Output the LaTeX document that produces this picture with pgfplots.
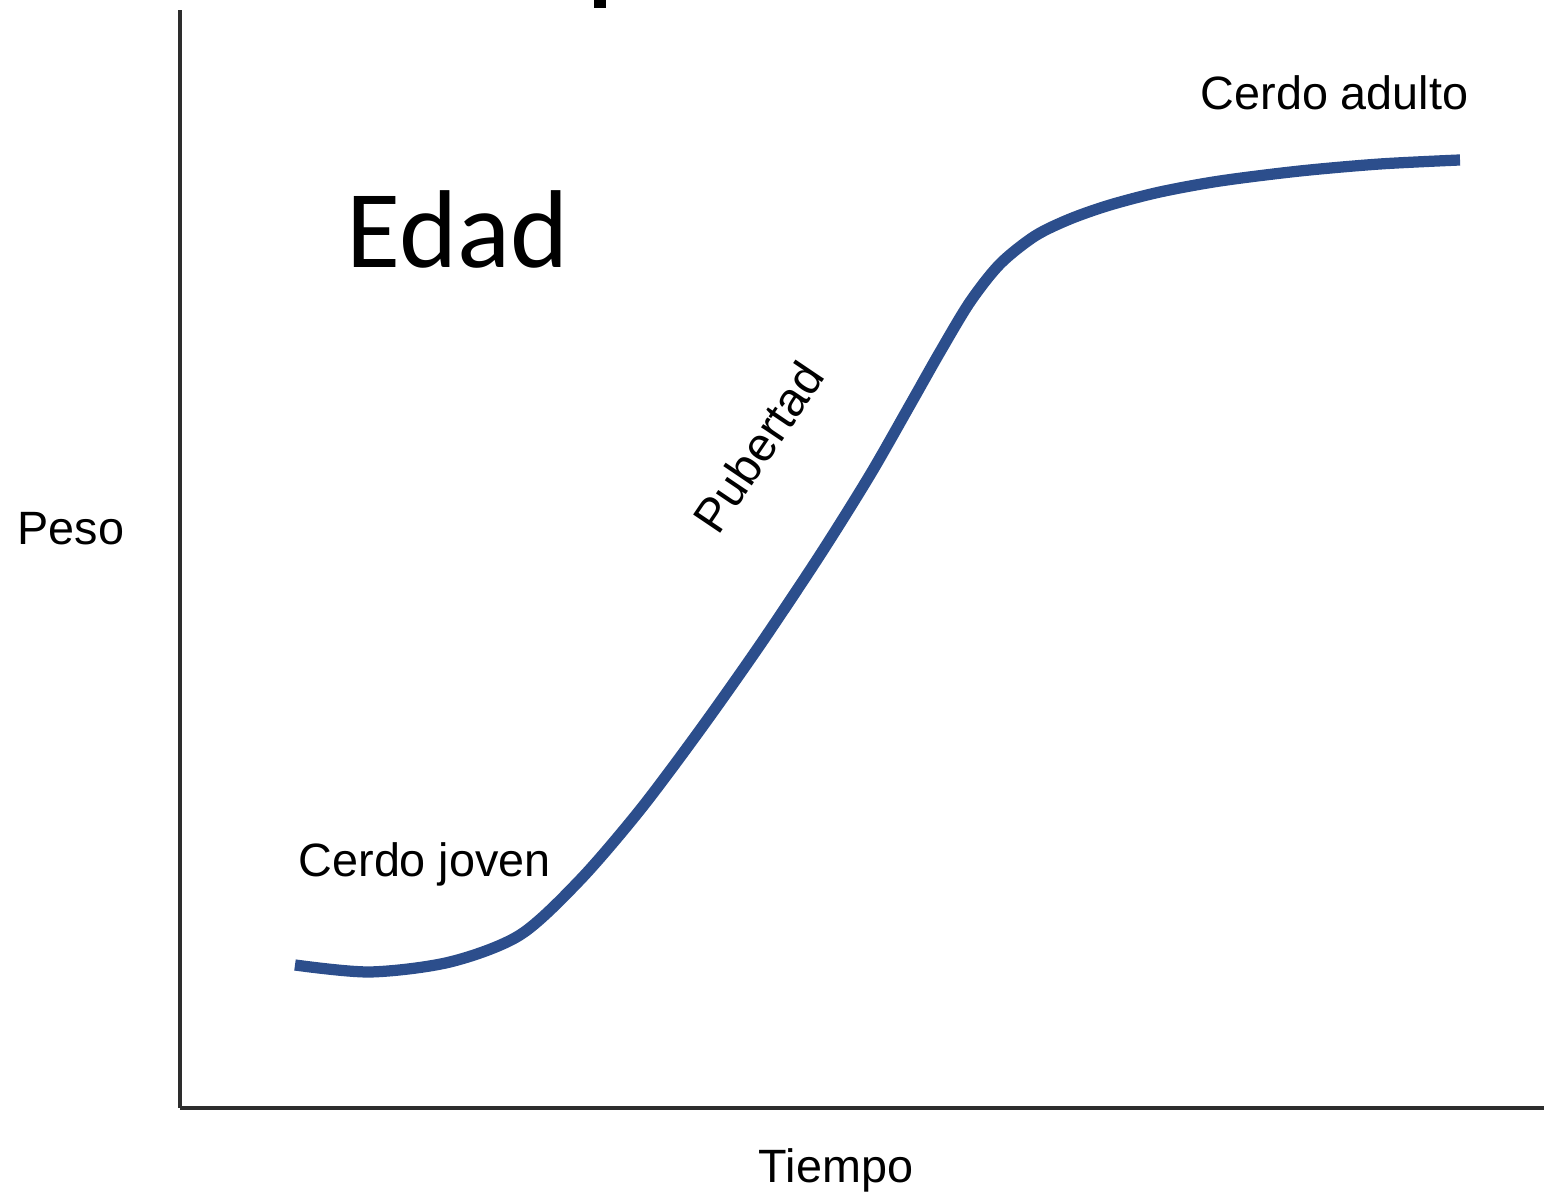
\documentclass[border=0pt]{standalone}
\usepackage{pgfplots}
\pgfplotsset{compat=1.18}
\usepackage{fontspec}
\setmainfont{Liberation Sans}
\newfontfamily\calibri{Carlito}
\definecolor{curve}{RGB}{44,78,140}
\definecolor{axisgray}{RGB}{45,45,45}
\begin{document}
\begin{tikzpicture}[x=1cm,y=1cm]
\useasboundingbox (0,0) rectangle (15.44,11.93);
\begin{axis}[
 at={(1.80cm,0.85cm)}, anchor=south west,
 scale only axis, width=13.64cm, height=10.98cm,
 xmin=180, xmax=1544, ymin=85, ymax=1183,
 axis x line*=bottom, axis y line*=left,
 axis line style={line width=0.9pt, color=axisgray, -},
 xtick=\empty, ytick=\empty,
 clip=false,
]
\addplot[curve, line width=3.2pt, smooth, line cap=butt] coordinates {
(295,228) (370,221) (450,231) (520,258) (580,313) (640,383) (700,463)
(760,548) (820,638) (870,718) (910,788) (940,841) (970,891) (1000,929)
(1035,957) (1070,974) (1110,988) (1160,1001) (1220,1012) (1300,1022)
(1380,1029) (1460,1033)
};
\node[anchor=base west, inner sep=0pt, font=\fontsize{13.3pt}{16pt}\selectfont] at (axis cs:1200,1083) {Cerdo adulto};
\node[anchor=base west, inner sep=0pt, font=\fontsize{13.3pt}{16pt}\selectfont] at (axis cs:298,316) {Cerdo joven};
\node[anchor=base west, inner sep=0pt, font=\fontsize{13.3pt}{16pt}\selectfont] at (axis cs:17,648) {Peso};
\node[anchor=base, inner sep=0pt, font=\fontsize{13.3pt}{16pt}\selectfont] at (axis cs:836,10) {Tiempo};
\node[rotate=56, inner sep=0pt, font=\fontsize{13.5pt}{16pt}\selectfont] at (axis cs:758,746) {Pubertad};
\node[anchor=base west, inner sep=0pt, font=\calibri\fontsize{31.5pt}{36pt}\selectfont] at (axis cs:346,925) {Edad};
\fill[black] (axis cs:594,1193) rectangle (axis cs:606,1185);
\end{axis}
\end{tikzpicture}
\end{document}
